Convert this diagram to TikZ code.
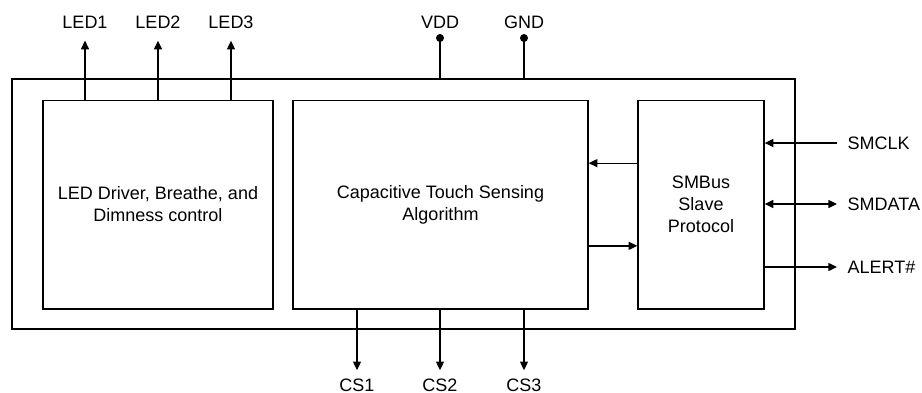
\documentclass[tikz,border=0pt]{standalone}
\usepackage{fontspec}
\setmainfont{Liberation Sans}
\usetikzlibrary{arrows.meta}

\begin{document}
\begin{tikzpicture}[x=0.75pt, y=-0.75pt, line width=1pt,
        font=\fontsize{13.5}{16.5}\selectfont,
        >={Triangle[width=6pt,length=6.5pt]},
        block/.style={draw, rectangle, inner sep=0pt, align=center},
        pinlabel/.style={inner sep=0pt},
        pindot/.style={circle, fill, inner sep=0pt, minimum size=6pt}]
        \useasboundingbox (0,0) rectangle (922,393);

        % Outer box
        \node[block, minimum width=587.25pt, minimum height=187.5pt] (chip) at (403.5,204) {};

        % Blocks
        \node[block, minimum width=172.5pt, minimum height=156.5pt] (drv) at (158,204.5) {LED Driver, Breathe, and\\Dimness control};
        \node[block, minimum width=221.25pt, minimum height=156.5pt] (cap) at (440.5,204.5) {Capacitive Touch Sensing\\Algorithm};
        \node[block, minimum width=94.5pt, minimum height=156.5pt] (smb) at (701,204.5) {SMBus\\Slave\\Protocol};

        % LED outputs
        \foreach \i/\x in {1/85, 2/158, 3/231} {
            \node[pinlabel] (led\i) at (\x,22) {LED\i};
            \draw[->, shorten >=8.8pt] (drv.north -| led\i) -- (led\i.south);
        }

        % Supply pins
        \foreach \nm/\x in {VDD/440, GND/524} {
            \node[pinlabel] (\nm) at (\x,22) {\nm};
            \node[pindot] (\nm pin) at (\x,38) {};
            \draw (chip.north -| \nm pin) -- (\nm pin.center);
        }

        % Sensor inputs
        \foreach \i/\x in {1/357, 2/440, 3/524} {
            \node[pinlabel] (cs\i) at (\x,385) {CS\i};
            \draw[->, shorten >=5.8pt] (cap.south -| cs\i) -- (cs\i.north);
        }

        % Internal links
        \draw[->] ([yshift=31pt]smb.west) -- ([yshift=31pt]cap.east);
        \draw[->] ([yshift=-31pt]cap.east) -- ([yshift=-31pt]smb.west);

        % SMBus pins
        \node[pinlabel, anchor=west] (smclk) at (847,143) {SMCLK};
        \node[pinlabel, anchor=west] (smdata) at (847,204) {SMDATA};
        \node[pinlabel, anchor=west] (alert) at (847,267) {ALERT\#};
        \draw[->, shorten <=7.5pt] (smclk.west) -- (smclk.west -| smb.east);
        \draw[<->, shorten >=7.5pt] (smdata.west -| smb.east) -- (smdata.west);
        \draw[->, shorten >=7.5pt] (alert.west -| smb.east) -- (alert.west);
\end{tikzpicture}
\end{document}
